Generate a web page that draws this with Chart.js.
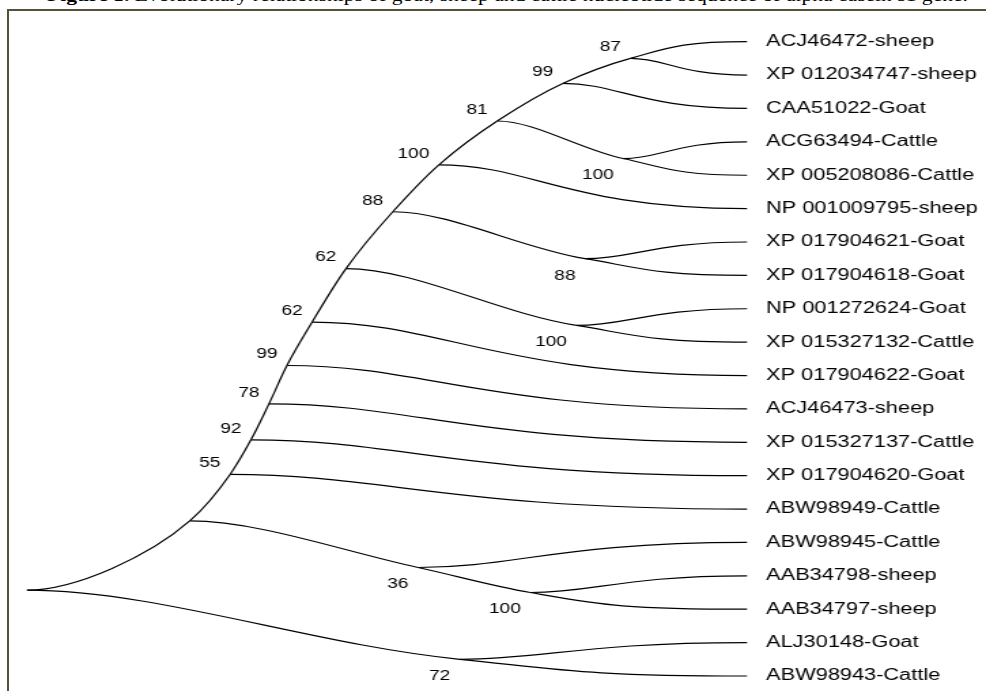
<!DOCTYPE html>
<html>
<head>
<meta charset="utf-8">
<title>Evolutionary relationships - alpha casein s1</title>
<script src="https://cdn.jsdelivr.net/npm/chart.js@4.4.1/dist/chart.umd.min.js"></script>
<style>
  html, body { margin: 0; padding: 0; background: #fff; overflow: hidden; }
  #page { position: relative; width: 986px; height: 691px; overflow: hidden; }
  #caption { position: absolute; left: 47px; top: -13px; white-space: nowrap; line-height: 18px;
             font-family: "Liberation Serif", "Times New Roman", serif; font-size: 16px; color: #000;
             transform-origin: 0 0; }
  #frame { position: absolute; left: 7px; top: 9px; right: -20px; bottom: -20px;
           border-top: 2px solid #56513a; border-left: 2px solid #56513a; }
  #tree { position: absolute; left: 0; top: 0; }
</style>
</head>
<body>
<div id="page">
  <div id="caption"><b>Figure 1.</b> Evolutionary relationships of goat, sheep and cattle nucleotide sequence of alpha casein s1 gene.</div>
  <div id="frame"></div>
  <!-- drawn narrow, then stretched sideways like the original figure -->
  <canvas id="tree" width="725" height="691" style="width:986px;height:691px"></canvas>
</div>
<script>
'use strict';

// leaves, top to bottom
var leafNames = ['ACJ46472-sheep', 'XP 012034747-sheep', 'CAA51022-Goat', 'ACG63494-Cattle',
    'XP 005208086-Cattle', 'NP 001009795-sheep', 'XP 017904621-Goat', 'XP 017904618-Goat',
    'NP 001272624-Goat', 'XP 015327132-Cattle', 'XP 017904622-Goat', 'ACJ46473-sheep',
    'XP 015327137-Cattle', 'XP 017904620-Goat', 'ABW98949-Cattle', 'ABW98945-Cattle',
    'AAB34798-sheep', 'AAB34797-sheep', 'ALJ30148-Goat', 'ABW98943-Cattle'];
var leafDepth = 100;

// internal nodes; a number in nodeKids is a leaf index
var nodeIds = ['root', 'n1', 'b55', 'b92', 'b78', 'b99b', 'b62b', 'b62a', 'b88', 'b100',
    'b81', 'b99', 'b87', 'cACG', 'c88', 'c100', 'b36', 'cAAB', 'n72'];
var nodeKids = [['n1', 'n72'], ['b55', 'b36'], ['b92', 14], ['b78', 13], ['b99b', 12],
    ['b62b', 11], ['b62a', 10], ['b88', 'c100'], ['b100', 'c88'], ['b81', 5], ['b99', 'cACG'],
    ['b87', 2], [0, 1], [3, 4], [6, 7], [8, 9], [15, 'cAAB'], [16, 17], [18, 19]];
var nodeDepth = [0, 22.6, 28.2, 31.1, 33.6, 36.1, 39.6, 44.3, 50.8, 57.2, 65.3, 74.4, 83.8,
    82.8, 77.5, 76.3, 54.3, 69.9, 60.1];
var nodeSupport = [null, null, 55, 92, 78, 99, 62, 62, 88, 100, 81, 99, 87, 100, 88, 100, 36, 100, 72];
// child the incoming branch runs on into (0 upper, 1 lower, -1 none)
var nodeMain = [-1, 0, 0, 0, 0, 0, 0, 0, 0, 0, 0, 0, 0, 1, 1, 1, 1, 1, 1];

// build the tree
var tree = {};
leafNames.forEach(function (name, i) {
    tree['L' + i] = { x: leafDepth, y: i + 1, kids: [], main: -1 };
});
nodeIds.forEach(function (id, i) {
    tree[id] = {
        x: nodeDepth[i],
        kids: nodeKids[i].map(function (k) { return typeof k === 'number' ? 'L' + k : k; }),
        main: nodeMain[i],
        support: nodeSupport[i]
    };
});
nodeIds.forEach(function (id) {
    tree[id].kids.forEach(function (k) { tree[k].parent = id; });
});
function placeY(id) {
    var n = tree[id];
    if (n.y === undefined) n.y = (placeY(n.kids[0]) + placeY(n.kids[1])) / 2;
    return n.y;
}
placeY('root');

var points = Object.keys(tree).map(function (id) { return { x: tree[id].x, y: tree[id].y }; });

var branchPlugin = {
    id: 'branches',
    afterDatasetsDraw: function (chart) {
        var ctx = chart.ctx, xs = chart.scales.x, ys = chart.scales.y;
        var pos = {};
        Object.keys(tree).forEach(function (id) {
            pos[id] = { x: xs.getPixelForValue(tree[id].x), y: ys.getPixelForValue(tree[id].y) };
        });
        // tangent where the branch runs through a node, leaning to the shorter side
        function dir(id) {
            var n = tree[id], a = pos[n.parent], p = pos[id], b = pos[n.kids[n.main]];
            var ix = p.x - a.x, iy = p.y - a.y, il = Math.sqrt(ix * ix + iy * iy);
            var ox = b.x - p.x, oy = b.y - p.y, ol = Math.sqrt(ox * ox + oy * oy);
            var tx = ix / il * ol + ox / ol * il, ty = iy / il * ol + oy / ol * il;
            var l = Math.sqrt(tx * tx + ty * ty);
            return { x: tx / l, y: ty / l };
        }
        ctx.save();
        ctx.strokeStyle = '#000';
        ctx.lineWidth = 1.2;
        nodeIds.forEach(function (id) {
            var n = tree[id], p = pos[id];
            n.kids.forEach(function (kid, k) {
                var c = pos[kid], kn = tree[kid];
                var dx = c.x - p.x, dy = c.y - p.y, len = Math.sqrt(dx * dx + dy * dy);
                var c1, c2, t;
                if (n.main === k) {
                    t = dir(id);
                    c1 = { x: p.x + t.x * len / 3, y: p.y + t.y * len / 3 };
                } else {
                    c1 = { x: p.x + 0.3 * dx, y: p.y };
                }
                if (kn.main >= 0) {
                    t = dir(kid);
                    c2 = { x: c.x - t.x * len / 3, y: c.y - t.y * len / 3 };
                } else {
                    c2 = { x: p.x + 0.42 * dx, y: c.y };
                }
                ctx.beginPath();
                ctx.moveTo(p.x, p.y);
                ctx.bezierCurveTo(c1.x, c1.y, c2.x, c2.y, c.x, c.y);
                ctx.stroke();
            });
        });
        // bootstrap values
        ctx.font = '14px "Liberation Sans", Arial, sans-serif';
        ctx.fillStyle = '#000';
        ctx.textAlign = 'right';
        ctx.textBaseline = 'middle';
        nodeIds.forEach(function (id) {
            var n = tree[id];
            if (n.support === null) return;
            var p = pos[id];
            ctx.fillText(String(n.support), p.x - 7, n.main === 1 ? p.y + 17 : p.y - 11);
        });
        ctx.restore();
    }
};

new Chart(document.getElementById('tree'), {
    type: 'scatter',
    data: {
        datasets: [{ data: points, pointRadius: 0, pointHoverRadius: 0, showLine: false }]
    },
    options: {
        responsive: false,
        animation: false,
        devicePixelRatio: 1,
        events: [],
        layout: { padding: { top: 25, left: 0, right: 0, bottom: 0 } },
        plugins: { legend: { display: false }, tooltip: { enabled: false } },
        scales: {
            x: { type: 'linear', display: false, min: -3.75, max: 100 },
            y: {
                type: 'linear', position: 'right', reverse: true, min: 0.5, max: 20.45,
                grid: { display: false },
                border: { display: false },
                afterBuildTicks: function (axis) {
                    axis.ticks = leafNames.map(function (n, i) { return { value: i + 1 }; });
                },
                afterFit: function (axis) {
                    axis.width = 175.7;
                    axis.paddingTop = 0;
                    axis.paddingBottom = 0;
                },
                ticks: {
                    autoSkip: false,
                    padding: 6,
                    color: '#000',
                    font: { family: '"Liberation Sans", Arial, sans-serif', size: 16 },
                    callback: function (v) { return leafNames[v - 1]; }
                }
            }
        }
    },
    plugins: [branchPlugin]
});

// caption spans the page width like the source
var cap = document.getElementById('caption');
var w = cap.getBoundingClientRect().width;
cap.style.transform = 'scaleX(' + (921 / w) + ')';
</script>
</body>
</html>
